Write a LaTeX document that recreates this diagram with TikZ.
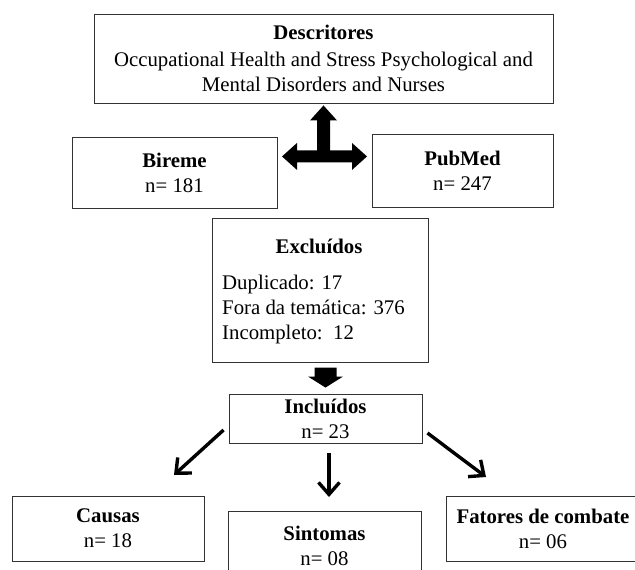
\documentclass[tikz,border=0pt]{standalone}
\usepackage{fontspec}
\setmainfont{Liberation Serif}
\usetikzlibrary{arrows.meta,positioning}

\tikzset{
  texto/.style={font=\fontsize{20.8}{25}\selectfont},
  caixa/.style={texto,draw=black!80,line width=0.9pt,inner sep=0pt,align=center},
  seta/.style={line width=3.4pt,-{Straight Barb[length=12pt,width=21pt]}},
  bloco/.style={fill=black,draw=none},
}

\begin{document}
\begin{tikzpicture}[x=1pt,y=-1pt]
\path[use as bounding box,clip] (0,0) rectangle (635,570);
% ---------- descritores ----------
\node[caixa,minimum width=459pt,minimum height=89pt] (desc) at (323.5,58.5)
  {\textbf{Descritores}\\[2pt]Occupational Health and Stress Psychological and\\
   Mental Disorders and Nurses};
% ---------- bases ----------
\node[caixa,minimum width=205pt,minimum height=71pt] (bireme) at (174.5,172.5)
  {\textbf{Bireme}\\n= 181};
\node[caixa,minimum width=181pt,minimum height=73pt] (pubmed) at (462.5,170.5)
  {\textbf{PubMed}\\n= 247};
% seta em T (cima, esquerda, direita)
\begin{scope}[shift={(desc.south)}]
  \fill[bloco] (0,2) -- (13.5,17) -- (6.5,17) -- (6.5,47) -- (28.5,47)
    -- (28.5,39.5) -- (43.5,53) -- (28.5,66.5) -- (28.5,59) -- (-26.5,59)
    -- (-26.5,66.5) -- (-41.5,53) -- (-26.5,39.5) -- (-26.5,47) -- (-6.5,47)
    -- (-6.5,17) -- (-13.5,17) -- cycle;
\end{scope}
% ---------- excluidos ----------
\node[caixa,minimum width=216pt,minimum height=144pt] (excl) at (320,290) {};
\node[texto,inner sep=0pt] (exclTit) at (319,246) {\textbf{Excluídos}};
\node[texto,inner sep=0pt,align=left,anchor=west] (exclLista) at (222,309)
  {Duplicado: 17\\Fora da temática: 376\\Incompleto:~~12};
% ---------- incluidos ----------
\node[caixa,minimum width=193pt,minimum height=49pt] (incl) at (325.5,418.5)
  {\textbf{Incluídos}\\n= 23};
\begin{scope}[shift={(incl.north)}]
  \fill[bloco] (0,-6) -- (17.5,-17) -- (11,-17) -- (11,-26) -- (-11,-26)
    -- (-11,-17) -- (-17.5,-17) -- cycle;
\end{scope}
% ---------- categorias ----------
\node[caixa,minimum width=192pt,minimum height=65pt] (causas) at (108,528.5)
  {\textbf{Causas}\\n= 18};
\node[caixa,minimum width=193pt,minimum height=70pt] (sintomas) at (324.5,546)
  {\textbf{Sintomas}\\n= 08};
\node[caixa,minimum width=194pt,minimum height=65pt] (fatores) at (543,528.5)
  {\textbf{Fatores de combate}\\n= 06};
% setas finas
\coordinate (iniCausas) at ([shift={(-5,11.5)}]incl.west);
\coordinate (iniSint) at ([shift={(3.5,10)}]incl.south);
\coordinate (iniFat) at ([shift={(5,14.5)}]incl.east);
\coordinate (fimCausas) at (174,475);
\coordinate (fimSint) at (329,497);
\coordinate (fimFat) at (486,477);
\draw[seta] (iniCausas) -- (fimCausas);
\draw[seta] (iniSint) -- (fimSint);
\draw[seta] (iniFat) -- (fimFat);
\end{tikzpicture}
\end{document}
